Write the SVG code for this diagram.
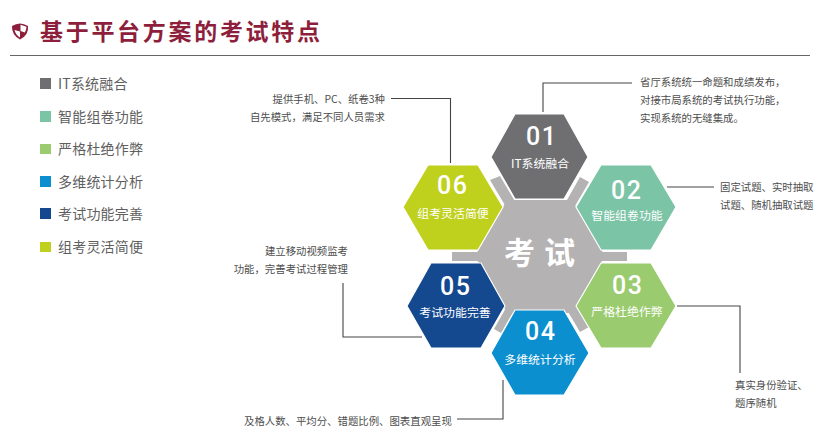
<svg xmlns="http://www.w3.org/2000/svg" width="825" height="445" viewBox="0 0 825 445">
<style>
text{font-family:"Noto Sans CJK SC","Noto Sans",sans-serif}
.title{font-size:23px;font-weight:700;fill:#8e1f3c;letter-spacing:2.7px}
.leg{font-size:14px;fill:#5f5f5f;letter-spacing:.2px}
.note{font-size:10.4px;fill:#4d4d4d}
.end{text-anchor:end}
.num{font-family:"Roboto","Liberation Sans",sans-serif;font-size:25px;font-weight:500;fill:#fff;text-anchor:middle;letter-spacing:1.5px}
.lab{font-size:11.9px;fill:#fff;text-anchor:middle}
.mid{font-size:31px;font-weight:700;fill:#fff;text-anchor:middle;letter-spacing:9px}
.hex{stroke:#fff;stroke-width:1.2}
.con{fill:none;stroke:#444;stroke-width:1.1}
</style>
<rect width="825" height="445" fill="#fff"/>
<g id="header">
<path d="M12 26Q20 21 28 26Q29 35 20 39.500Q11.500 35 12 26Z" fill="#8e1f3c"/>
<path d="M20.500 24.800L26.500 26.800Q26.300 30 24.800 32.500L20.500 31ZM20 31.500L14.500 30Q15.500 34.500 20 37.500Z" fill="#fff"/>
<text class="title" x="40" y="40">基于平台方案的考试特点</text>
<rect x="10" y="55" width="800" height="1" fill="#666"/>
</g>
<g id="legend">
<rect x="40" y="78" width="11" height="11" fill="#6f6f72"/><text class="leg" x="58" y="88.500">IT系统融合</text>
<rect x="40" y="111" width="11" height="11" fill="#7bc4a6"/><text class="leg" x="58" y="122">智能组卷功能</text>
<rect x="40" y="144" width="11" height="10" fill="#9acb6e"/><text class="leg" x="58" y="154">严格杜绝作弊</text>
<rect x="40" y="176" width="11" height="11" fill="#0b8fcf"/><text class="leg" x="58" y="187">多维统计分析</text>
<rect x="40" y="208" width="11" height="11" fill="#15498f"/><text class="leg" x="58" y="219">考试功能完善</text>
<rect x="40" y="242" width="11" height="10" fill="#bfd11d"/><text class="leg" x="58" y="252">组考灵活简便</text>
</g>
<g id="connectors">
<path class="con" d="M543 112V83H632"/>
<path class="con" d="M450.500 163V98.500H391"/>
<path class="con" d="M667 187H714"/>
<path class="con" d="M677 306H740V373"/>
<path class="con" d="M503 380V419H457"/>
<path class="con" d="M422 337H343V283"/>
</g>
<g id="center">
<path d="M452 252H627V261H452ZM490 180L500 176L589 327L580 332ZM589 182L580 177L494 329L501 333Z" fill="#b4b2b3"/>
<path d="M475 256L507 200H572L605 256L572 313H507Z" fill="#b4b2b3"/>
<text class="mid" x="544" y="264">考试</text>
</g>
<g id="n01"><path class="hex" d="M491 157L515 114H564L588 157L564 199H515Z" fill="#6f6f72"/><text class="num" x="541.700" y="145">01</text><text class="lab" x="540" y="167.500">IT系统融合</text></g>
<g id="n02"><path class="hex" d="M576 207L601 165H651L676 207L651 250H601Z" fill="#7bc4a6"/><text class="num" x="626.700" y="199">02</text><text class="lab" x="627" y="219.500">智能组卷功能</text></g>
<g id="n03"><path class="hex" d="M576 306L601 263H651L676 306L651 348H601Z" fill="#9acb6e"/><text class="num" x="627.700" y="294">03</text><text class="lab" x="627" y="315.500">严格杜绝作弊</text></g>
<g id="n04"><path class="hex" d="M491 353L515 310H564L589 353L564 395H515Z" fill="#0b8fcf"/><text class="num" x="540.700" y="340">04</text><text class="lab" x="540" y="363.500">多维统计分析</text></g>
<g id="n05"><path class="hex" d="M407 306L431 263H481L505 306L481 348H431Z" fill="#15498f"/><text class="num" x="455.700" y="295">05</text><text class="lab" x="455" y="316.500">考试功能完善</text></g>
<g id="n06"><path class="hex" d="M403 207L428 165H478L503 207L478 250H428Z" fill="#bfd11d"/><text class="num" x="452.700" y="194">06</text><text class="lab" x="453" y="218">组考灵活简便</text></g>
<g id="notes">
<text class="note" x="640" y="86">省厅系统统一命题和成绩发布，</text>
<text class="note" x="640" y="104">对接市局系统的考试执行功能，</text>
<text class="note" x="640" y="122">实现系统的无缝集成。</text>
<text class="note end" x="385" y="103">提供手机、PC、纸卷3种</text>
<text class="note end" x="385" y="121">自先模式，满足不同人员需求</text>
<text class="note" x="720" y="191">固定试题、实时抽取</text>
<text class="note" x="720" y="209">试题、随机抽取试题</text>
<text class="note end" x="348" y="255">建立移动视频监考</text>
<text class="note end" x="348" y="273">功能，完善考试过程管理</text>
<text class="note" x="735" y="389">真实身份验证、</text>
<text class="note" x="735" y="407">题序随机</text>
<text class="note" x="244" y="425">及格人数、平均分、错题比例、图表直观呈现</text>
</g>
</svg>
